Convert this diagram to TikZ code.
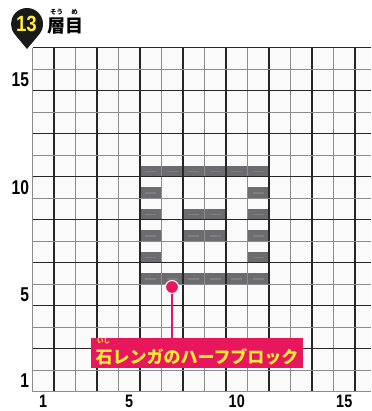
\documentclass[tikz,border=0pt]{standalone}
\usepackage{fontspec}
\setmainfont{Liberation Sans}
\newfontfamily\jpfont{Noto Sans CJK JP}
\usetikzlibrary{positioning}
\definecolor{pinred}{RGB}{232,22,92}
\definecolor{numyellow}{RGB}{255,238,52}
\definecolor{brickgray}{RGB}{108,108,110}

\begin{document}
\begin{tikzpicture}[x=1pt,y=-1pt,
	darkline/.style={black!85,line width=1.2pt},
	lightline/.style={black!45,line width=1.3pt},
	halfbrick/.style={fill=brickgray},
	axisnum/.style={font=\bfseries\fontsize{20}{20}\selectfont,inner sep=0pt},
	ruby/.style={font=\jpfont\bfseries\fontsize{6.5}{6.5}\selectfont,inner sep=0pt}]
	\useasboundingbox (0,0) rectangle (371,411);

	% grid, in cell units
	\begin{scope}[shift={(32.5,391.7)},x=21.5pt,y=21.5pt]
		\fill[black!2] (0,0) rectangle (15.75,16);
		\foreach \c/\r in {6/11,7/11,8/11,9/11,10/11,11/11,6/10,11/10,
			6/9,8/9,9/9,11/9,6/8,8/8,9/8,11/8,6/7,11/7,
			6/6,7/6,8/6,9/6,10/6,11/6} {
			\fill[halfbrick] (\c-1,\r-1) rectangle (\c,\r-0.5);
			\draw[brickgray!88!white,line width=1.2pt] (\c-0.75,\r-0.76) -- (\c-0.25,\r-0.76);
		}
		\foreach \i in {0,2,...,14} \draw[lightline] (\i,0) -- (\i,16);
		\foreach \i in {1,3,...,15} \draw[darkline] (\i,0) -- (\i,16);
		\foreach \j in {1,3,...,15} \draw[lightline] (0,\j) -- (15.75,\j);
		\foreach \j in {2,4,...,16} \draw[darkline] (0,\j) -- (15.75,\j);
		\draw[lightline] (0,0) -- (15.75,0);
		\foreach \n in {1,5,10,15} {
			\node[axisnum,anchor=east] at (-0.15,\n-0.5) {\scalebox{0.78}[1]{\n}};
			\node[axisnum,font=\bfseries\fontsize{18}{18}\selectfont] at (\n-0.5,-0.45) {\scalebox{0.8}[1]{\n}};
		}
	\end{scope}

	% title marker
	\fill[black!90] (27,49) -- ([shift={(27,24)}]39.8:16) arc[start angle=39.8,end angle=-219.8,radius=16] -- cycle;
	\node[font=\bfseries\fontsize{22}{22}\selectfont,text=numyellow,inner sep=0pt] (num) at (26.5,24) {\scalebox{0.85}[1]{13}};
	\node[font=\jpfont\bfseries\fontsize{18}{18}\selectfont,inner sep=0pt] (title) at (65.5,26) {層目};
	\node[ruby] (sou) at (56.5,12) {そう};
	\node[ruby] (me) at (74.5,12) {め};

	% pin and label
	\node[fill=pinred,minimum width=212pt,minimum height=30pt,inner sep=0pt] (lbl) at (197,353) {};
	\node[font=\jpfont\bfseries\fontsize{17}{17}\selectfont,text=numyellow,inner sep=0pt] (lbltxt) at (197,357) {石レンガのハーフブロック};
	\node[ruby,text=numyellow] (ishi) at (103.5,341.5) {いし};
	\node[circle,fill=pinred,draw=white,line width=1pt,minimum size=13pt,inner sep=0pt] (pin) at (172,287) {};
	\draw[pinred,line width=2.2pt] (pin) -- (pin |- lbl.north);
\end{tikzpicture}
\end{document}
